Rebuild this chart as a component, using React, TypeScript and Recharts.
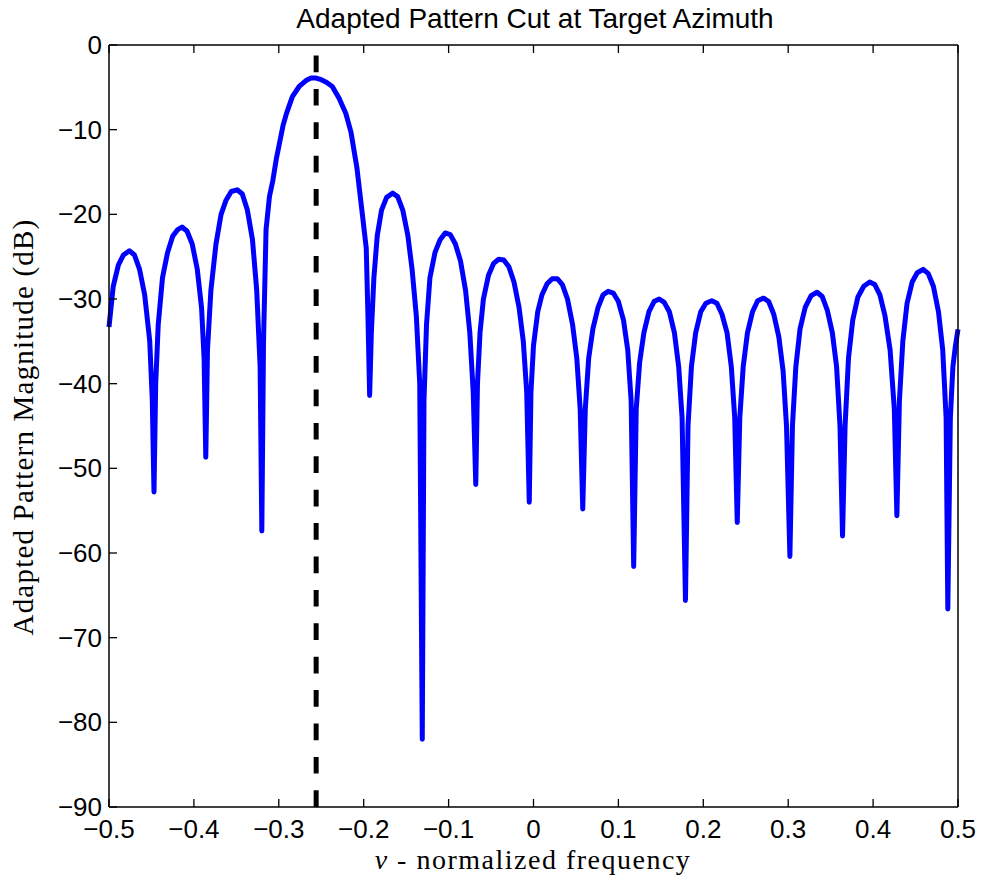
import { LineChart, Line, XAxis, YAxis, ReferenceLine } from "recharts"

// normalized frequency samples
const nu = [
  -0.5, -0.495, -0.489, -0.483, -0.476, -0.47, -0.464, -0.458, -0.452, -0.449, -0.447, -0.445, -0.442, -0.437,
  -0.431, -0.425, -0.419, -0.414, -0.408, -0.402, -0.396, -0.391, -0.388, -0.386, -0.384, -0.38, -0.374, -0.368,
  -0.362, -0.356, -0.349, -0.343, -0.337, -0.331, -0.326, -0.322, -0.32, -0.318, -0.315, -0.311, -0.307, -0.303,
  -0.299, -0.295, -0.291, -0.284, -0.276, -0.268, -0.262, -0.256, -0.25, -0.244, -0.237, -0.229, -0.221, -0.215,
  -0.208, -0.201, -0.197, -0.195, -0.193, -0.191, -0.188, -0.184, -0.179, -0.173, -0.166, -0.16, -0.154, -0.148,
  -0.143, -0.138, -0.134, -0.131, -0.129, -0.126, -0.122, -0.116, -0.11, -0.104, -0.098, -0.092, -0.086, -0.08,
  -0.075, -0.071, -0.068, -0.066, -0.063, -0.059, -0.053, -0.047, -0.041, -0.035, -0.029, -0.023, -0.017, -0.012,
  -0.008, -0.005, -0.003, 0.0, 0.005, 0.01, 0.016, 0.022, 0.028, 0.034, 0.04, 0.046, 0.051, 0.055, 0.058, 0.061,
  0.065, 0.07, 0.076, 0.082, 0.088, 0.094, 0.1, 0.106, 0.111, 0.115, 0.118, 0.121, 0.125, 0.13, 0.136, 0.142,
  0.148, 0.154, 0.16, 0.166, 0.171, 0.175, 0.179, 0.182, 0.186, 0.191, 0.197, 0.203, 0.21, 0.216, 0.222, 0.228,
  0.233, 0.237, 0.24, 0.243, 0.247, 0.252, 0.258, 0.264, 0.271, 0.277, 0.283, 0.289, 0.294, 0.298, 0.302, 0.305,
  0.309, 0.314, 0.32, 0.327, 0.334, 0.34, 0.346, 0.352, 0.357, 0.361, 0.364, 0.367, 0.371, 0.376, 0.382, 0.389,
  0.396, 0.402, 0.408, 0.414, 0.42, 0.425, 0.428, 0.431, 0.435, 0.44, 0.446, 0.452, 0.459, 0.465, 0.471, 0.477,
  0.482, 0.486, 0.488, 0.491, 0.494, 0.497, 0.5,
]

// adapted pattern magnitude in dB
const magDb = [
  -33.3, -28.5, -26.0, -24.8, -24.3, -24.8, -26.5, -29.5, -35, -42, -52.8, -40, -33, -27.5,
  -24.5, -22.6, -21.8, -21.5, -22.0, -23.5, -26.5, -31, -37, -48.7, -36, -29, -23.5, -20.0,
  -18.3, -17.3, -17.1, -17.6, -19.5, -23, -29, -38, -57.4, -35, -21.8, -17.9, -16, -13.5,
  -11.5, -9.5, -8.1, -6.1, -4.9, -4.2, -3.9, -3.9, -4.1, -4.4, -4.9, -6.3, -8.1, -10.3,
  -14.5, -20.5, -24, -32, -41.4, -34, -27.5, -22.5, -19.5, -18.0, -17.5, -17.9, -19.5, -22.5,
  -26.5, -32, -40, -82, -42, -33, -27.5, -24.5, -23.0, -22.2, -22.4, -23.5, -25.5, -29,
  -34, -41, -51.9, -40, -34, -30, -27.2, -25.8, -25.3, -25.4, -26.2, -28, -31, -35,
  -41, -54, -41, -35.5, -31.5, -29.5, -28.2, -27.6, -27.6, -28.3, -30, -33, -37, -43, -54.8, -43,
  -37, -33.5, -31, -29.5, -29.1, -29.3, -30.3, -32.5, -36, -42, -61.6, -43, -37.5, -34, -31.5, -30.3,
  -30.0, -30.4, -31.5, -34, -38, -44, -65.6, -45, -38, -34, -31.5, -30.5, -30.2, -30.5, -31.8, -34,
  -38, -44, -56.4, -44, -38, -34, -31.5, -30.2, -29.9, -30.3, -31.8, -34.5, -38.5, -45, -60.4, -45,
  -38, -33.5, -31, -29.6, -29.2, -29.7, -31.3, -34, -38, -45, -58, -45, -37, -32.5, -29.8, -28.5,
  -28.0, -28.3, -29.5, -32, -36, -43, -55.6, -42, -35, -30.5, -28, -26.9, -26.5, -27, -28.5, -31.5,
  -36, -44, -66.6, -44, -38, -35.5, -33.6,
]

const xTicks = [-0.5, -0.4, -0.3, -0.2, -0.1, 0, 0.1, 0.2, 0.3, 0.4, 0.5]
const yTicks = [0, -10, -20, -30, -40, -50, -60, -70, -80, -90]
const targetNu = -0.256

const data = nu.map((v, i) => ({ nu: v, mag: magDb[i] }))

const fmt = (v: number) => (v < 0 ? "\u2212" + String(-v) : String(v))
const tickFont = { fontFamily: "'Liberation Sans', Arial, sans-serif", fontSize: 26, fill: "#000" }

function BottomTick({ x, y, payload }: any) {
  return (
    <g>
      <line x1={x} y1={y} x2={x} y2={y - 8} stroke="#000" strokeWidth={1.3} />
      <text x={x} y={y + 31} textAnchor="middle" {...tickFont}>{fmt(payload.value)}</text>
    </g>
  )
}

function TopTick({ x, y }: any) {
  return <line x1={x} y1={y} x2={x} y2={y + 8} stroke="#000" strokeWidth={1.3} />
}

function LeftTick({ x, y, payload }: any) {
  return (
    <g>
      <line x1={x} y1={y} x2={x + 8} y2={y} stroke="#000" strokeWidth={1.3} />
      <text x={x - 7} y={y + 9} textAnchor="end" {...tickFont}>{fmt(payload.value)}</text>
    </g>
  )
}

function RightTick({ x, y }: any) {
  return <line x1={x} y1={y} x2={x - 8} y2={y} stroke="#000" strokeWidth={1.3} />
}

export default function App() {
  const serif = "'Liberation Serif', 'Times New Roman', serif"
  return (
    <div style={{ position: "relative", width: 969, height: 869 }}>
      <LineChart width={969} height={869} data={data} margin={{ top: 36, right: 18, bottom: 10, left: 11 }}>
        <XAxis
          dataKey="nu"
          type="number"
          domain={[-0.5, 0.5]}
          ticks={xTicks}
          height={60}
          tickSize={0}
          tickMargin={0}
          tickLine={false}
          interval={0}
          axisLine={{ stroke: "#000", strokeWidth: 1.5 }}
          tick={<BottomTick />}
        />
        <XAxis
          xAxisId="top"
          orientation="top"
          dataKey="nu"
          type="number"
          domain={[-0.5, 0.5]}
          ticks={xTicks}
          height={1}
          tickSize={0}
          tickMargin={0}
          tickLine={false}
          interval={0}
          axisLine={{ stroke: "#000", strokeWidth: 1.5 }}
          tick={<TopTick />}
        />
        <YAxis
          type="number"
          domain={[-90, 0]}
          ticks={yTicks}
          width={90}
          tickSize={0}
          tickMargin={0}
          tickLine={false}
          interval={0}
          axisLine={{ stroke: "#000", strokeWidth: 1.5 }}
          tick={<LeftTick />}
        />
        <YAxis
          yAxisId="right"
          orientation="right"
          type="number"
          domain={[-90, 0]}
          ticks={yTicks}
          width={1}
          tickSize={0}
          tickMargin={0}
          tickLine={false}
          interval={0}
          axisLine={{ stroke: "#000", strokeWidth: 1.5 }}
          tick={<RightTick />}
        />
        <ReferenceLine
          segment={[{ x: targetNu, y: -90 }, { x: targetNu, y: 0 }]}
          stroke="#000"
          strokeWidth={5}
          strokeDasharray="16.7 16.7"
        />
        <Line
          type="linear"
          dataKey="mag"
          stroke="#0000ff"
          strokeWidth={5}
          dot={false}
          strokeLinejoin="round"
          isAnimationActive={false}
        />
      </LineChart>
      <svg
        width={985}
        height={885}
        style={{ position: "absolute", left: -8, top: -8, pointerEvents: "none" }}
      >
        <text x={535} y={28} textAnchor="middle" fontFamily="'Liberation Sans', Arial, sans-serif" fontSize={28}>
          Adapted Pattern Cut at Target Azimuth
        </text>
        <text x={533} y={869} textAnchor="middle" fontFamily={serif} fontSize={28} letterSpacing={1.5}>
          <tspan fontStyle="italic">ν</tspan> - normalized frequency
        </text>
        <text
          x={0}
          y={0}
          transform="translate(33 427) rotate(-90)"
          textAnchor="middle"
          fontFamily={serif}
          fontSize={29}
          letterSpacing={1.2}
        >
          Adapted Pattern Magnitude (dB)
        </text>
      </svg>
    </div>
  )
}
